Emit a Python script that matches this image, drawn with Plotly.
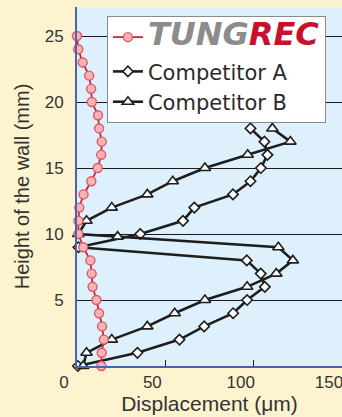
import plotly.graph_objects as go

# Height of the wall (mm)
heights_tungrec = [25, 24, 23, 22, 21, 20, 19, 18, 17, 16, 15, 14, 13, 12, 11, 10, 9, 8, 7, 6, 5, 4, 3, 2, 1, 0]
disp_tungrec = [0, 0.7, 3.2, 6.9, 8.0, 8.4, 11.9, 12.5, 14.0, 13.7, 11.7, 8.1, 3.7, 1.3, 0.8, 0.8,
                3.5, 7.6, 8.3, 8.8, 11.0, 12.5, 14.2, 15.2, 14.0, 13.8]

heights_a = [18, 17, 16, 15, 14, 13, 12, 11, 10, 9, 8, 7, 6, 5, 4, 3, 2, 1, 0]
disp_a = [98.2, 106.1, 107.8, 104.1, 98.2, 88.3, 66.4, 60.0, 35.8, 0.8,
          96.1, 104.0, 106.3, 96.3, 88.4, 72.0, 58.0, 34.2, 0.5]

heights_b = [18, 17, 16, 15, 14, 13, 12, 11, 10, 9.8, 9, 8, 7, 6, 5, 4, 3, 2, 1, 0]
disp_b = [110.6, 120.8, 96.6, 72.4, 54.2, 39.8, 19.7, 5.4, 0.7, 23.0,
          114.0, 122.2, 112.8, 96.3, 72.4, 55.3, 39.8, 19.7, 5.4, 3.5]

x_ticks = [0, 50, 100, 150]
y_ticks = [5, 10, 15, 20, 25]

fig = go.Figure()

fig.add_trace(go.Scatter(
    x=disp_a, y=heights_a, mode="lines+markers", name="Competitor A",
    line=dict(color="#1e1e1e", width=2.6),
    marker=dict(symbol="diamond", size=8, color="white", line=dict(color="#1e1e1e", width=1.6)),
    legendrank=2, legendgroup="comp", cliponaxis=False,
))
fig.add_trace(go.Scatter(
    x=disp_b, y=heights_b, mode="lines+markers", name="Competitor B",
    line=dict(color="#1e1e1e", width=2.6),
    marker=dict(symbol="triangle-up", size=10, color="white", line=dict(color="#1e1e1e", width=1.6)),
    legendrank=3, legendgroup="comp", cliponaxis=False,
))
fig.add_trace(go.Scatter(
    x=disp_tungrec, y=heights_tungrec, mode="lines+markers",
    name=("<span style='font-family:DejaVu Sans;font-size:32px;font-weight:bold;font-style:italic'>"
          "<span style='color:#8c8c8c'>TUNG</span><span style='color:#c8102e'>REC</span></span>"),
    line=dict(color="#d0203a", width=1.8),
    marker=dict(symbol="circle", size=9, color="#f6b3b3", line=dict(color="#e0576a", width=1.4)),
    legendrank=1, legendgroup="tung", cliponaxis=False,
))

fig.update_layout(
    width=342, height=417,
    margin=dict(l=77, r=0, t=7, b=51),
    paper_bgcolor="#fdf4cf",
    plot_bgcolor="#ddf0fb",
    font=dict(family="Liberation Sans, Arial, sans-serif", color="#333333"),
    showlegend=True,
    legend=dict(
        x=0.113, y=0.975, xanchor="left", yanchor="top",
        bgcolor="white", bordercolor="#8a8a8a", borderwidth=1,
        font=dict(size=21, color="#2a2a2a", family="DejaVu Sans, sans-serif"),
        itemwidth=30, tracegroupgap=4, traceorder="grouped",
    ),
    xaxis=dict(
        range=[0, 150], tickvals=x_ticks, ticks="inside", ticklen=6, tickcolor="#222",
        tickwidth=1, showgrid=False, zeroline=False,
        showline=True, linecolor="#4a64ad", linewidth=2,
        tickfont=dict(size=17, color="#333"), ticklabelshift=-13,
        ticklabeloverflow="allow",
        title=dict(text="Displacement (μm)", font=dict(size=21, color="#333"), standoff=4),
    ),
    yaxis=dict(
        range=[0, 27.2], tickvals=y_ticks, ticks="", showgrid=True, gridcolor="#1a1a1a",
        gridwidth=1, zeroline=False,
        showline=True, linecolor="#4a64ad", linewidth=2,
        tickfont=dict(size=17, color="#333"), ticklabelstandoff=8,
        title=dict(text="Height of the wall (mm)", font=dict(size=20, color="#333"), standoff=10),
    ),
)

fig.write_html("out.html", config={"displayModeBar": False},
               post_script="document.body.style.margin='0';")
